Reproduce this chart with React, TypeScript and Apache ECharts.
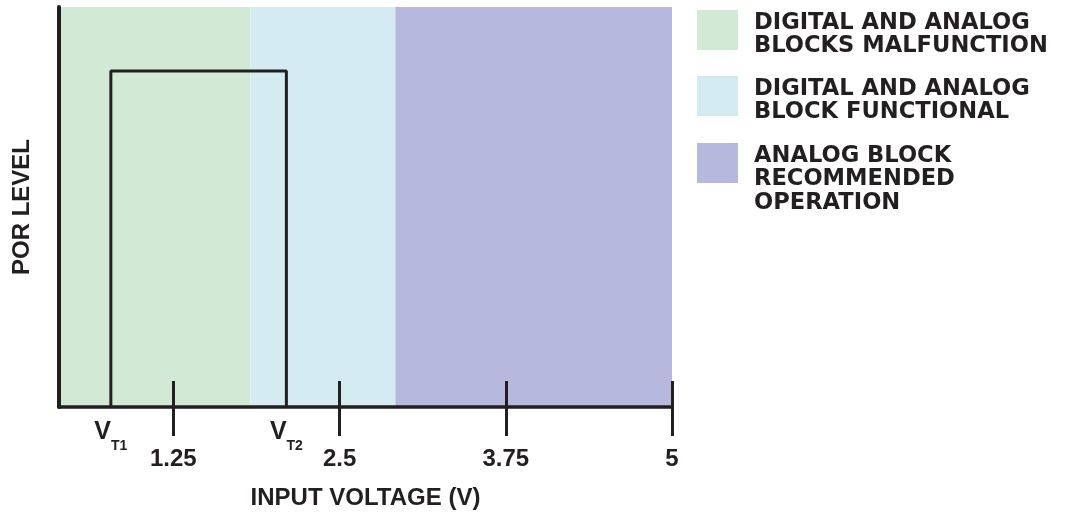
import { useEffect, useRef } from "react";
import * as echarts from "echarts";

const INK = "#231f20";
const AXIS_FONT = "Liberation Sans";
const LEGEND_FONT = "DejaVu Sans";

// input voltage axis
const axisMin = 0.39;
const axisMax = 5;
const tickValues = [1.25, 2.5, 3.75, 5];
const tickLabels = ["1.25", "2.5", "3.75", "5"];

// operating regions
const regionNames = [
  "DIGITAL AND ANALOG\nBLOCKS MALFUNCTION",
  "DIGITAL AND ANALOG\nBLOCK FUNCTIONAL",
  "ANALOG BLOCK\nRECOMMENDED\nOPERATION",
];
const regionStarts = [0.39, 1.83, 2.92];
const regionEnds = [1.83, 2.92, 5];
const regionColors = ["#d2e9d5", "#d4ecf1", "#b6b8de"];

// POR thresholds
const thresholdNames = ["T1", "T2"];
const thresholdValues = [0.78, 2.1];
const porLevel = 0.84;

export default function App() {
  const chartRef = useRef<HTMLDivElement>(null);

  useEffect(() => {
    if (!chartRef.current) {
      return;
    }
    const chart = echarts.init(chartRef.current, null, { renderer: "svg" });

    const porLine = [
      [thresholdValues[0], 0],
      [thresholdValues[0], porLevel],
      [thresholdValues[1], porLevel],
      [thresholdValues[1], 0],
    ];

    const legendTops = [10, 76, 143];
    const legendGraphics: any[] = [];
    regionNames.forEach((name, i) => {
      legendGraphics.push({
        type: "rect",
        left: 697,
        top: legendTops[i],
        shape: { width: 41, height: 40 },
        style: { fill: regionColors[i] },
      });
      legendGraphics.push({
        type: "text",
        left: 754,
        top: legendTops[i] - 1,
        style: {
          text: name,
          font: `bold 22.6px "${LEGEND_FONT}"`,
          lineHeight: 23.5,
          fill: INK,
        },
      });
    });

    chart.setOption({
      animation: false,
      grid: { left: 58, right: 393, top: 7, bottom: 114 },
      xAxis: [
        {
          type: "value",
          min: axisMin,
          max: axisMax,
          z: 10,
          name: "INPUT VOLTAGE (V)",
          nameLocation: "middle",
          nameGap: 77,
          nameTextStyle: {
            color: INK,
            fontFamily: AXIS_FONT,
            fontWeight: "bold",
            fontSize: 24,
          },
          axisLine: { show: true, lineStyle: { color: INK, width: 3.5 } },
          axisTick: {
            show: true,
            length: 29,
            customValues: tickValues,
            lineStyle: { color: INK, width: 3 },
          },
          axisLabel: {
            customValues: tickValues,
            margin: 38,
            color: INK,
            fontFamily: AXIS_FONT,
            fontWeight: "bold",
            fontSize: 24,
            formatter: (v: number) => tickLabels[tickValues.indexOf(v)] ?? "",
          },
          splitLine: { show: false },
        },
        {
          type: "value",
          position: "bottom",
          min: axisMin,
          max: axisMax,
          z: 10,
          axisLine: { show: false },
          axisTick: {
            show: true,
            inside: true,
            length: 26,
            customValues: tickValues,
            lineStyle: { color: INK, width: 3 },
          },
          axisLabel: {
            customValues: thresholdValues,
            margin: 10,
            color: INK,
            fontFamily: AXIS_FONT,
            fontWeight: "bold",
            formatter: (v: number) => {
              const i = thresholdValues.indexOf(v);
              return i < 0 ? "" : `{v|V}{s|${thresholdNames[i]}}`;
            },
            rich: {
              v: {
                fontSize: 25,
                fontFamily: AXIS_FONT,
                fontWeight: "bold",
                color: INK,
                verticalAlign: "top",
              },
              s: {
                fontSize: 14,
                fontFamily: AXIS_FONT,
                fontWeight: "bold",
                color: INK,
                verticalAlign: "top",
                padding: [21, 0, 0, 0],
              },
            },
          },
          splitLine: { show: false },
        },
      ],
      yAxis: {
        type: "value",
        min: 0,
        max: 1,
        z: 10,
        name: "POR LEVEL",
        nameLocation: "middle",
        nameGap: 27,
        nameTextStyle: {
          color: INK,
          fontFamily: AXIS_FONT,
          fontWeight: "bold",
          fontSize: 24,
        },
        axisLine: { show: true, lineStyle: { color: INK, width: 4 } },
        axisTick: { show: false },
        axisLabel: { show: false },
        splitLine: { show: false },
      },
      series: [
        {
          name: "Regions",
          type: "line",
          data: [],
          z: 1,
          silent: true,
          markArea: {
            silent: true,
            label: { show: false },
            data: regionNames.map((name, i) => [
              {
                name,
                xAxis: regionStarts[i],
                itemStyle: { color: regionColors[i], opacity: 1 },
              },
              { xAxis: regionEnds[i] },
            ]),
          },
        },
        {
          name: "POR",
          type: "line",
          z: 3,
          symbol: "none",
          silent: true,
          lineStyle: { color: INK, width: 3 },
          data: porLine,
        },
      ],
      graphic: legendGraphics,
    });

    return () => {
      chart.dispose();
    };
  }, []);

  return (
    <div
      ref={chartRef}
      style={{ position: "fixed", left: 0, top: 0, width: 1065, height: 521 }}
    />
  );
}
